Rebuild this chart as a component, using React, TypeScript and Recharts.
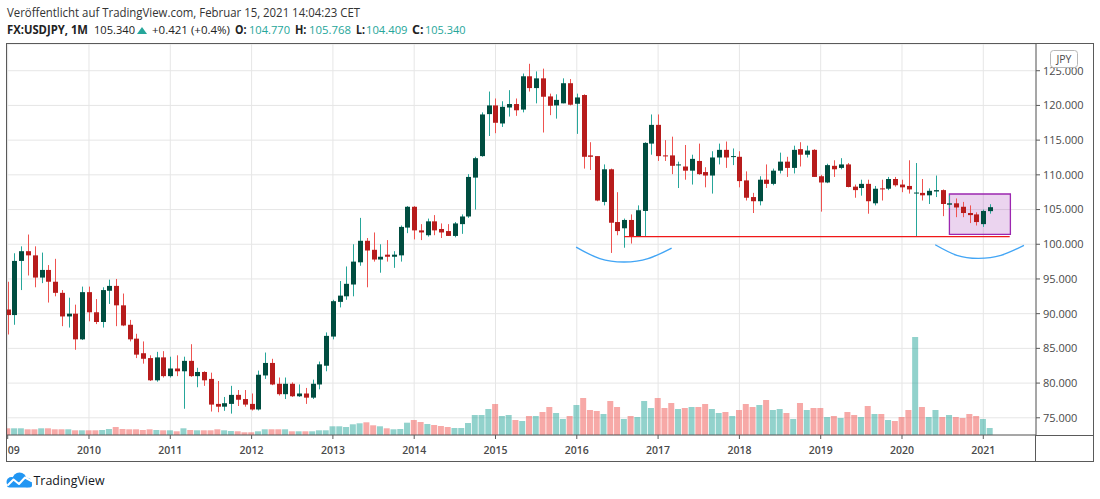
import React from "react";
import {
  ComposedChart,
  Bar,
  Line,
  XAxis,
  YAxis,
  CartesianGrid,
  ReferenceLine,
  ReferenceArea,
} from "recharts";

// ---- monthly USDJPY candles, Jan 2009 .. Feb 2021 ----
const OPEN = [
  90.6, 89.8, 97.6, 99.0, 98.4, 95.2, 96.3, 94.6, 93.0, 89.6, 90.0, 86.3,
  93.1, 90.2, 88.8, 93.3, 94.0, 91.2, 88.4, 86.4, 84.3, 83.6, 80.4, 83.7,
  81.0, 82.1, 81.7, 83.2, 81.0, 81.6, 80.6, 77.0, 76.6, 77.0, 78.3, 77.7,
  77.0, 76.2, 81.1, 82.9, 79.9, 78.4, 79.9, 78.1, 78.5, 77.9, 79.8, 82.5,
  86.7, 91.7, 92.5, 94.2, 97.4, 100.5, 99.2, 97.8, 98.5, 98.2, 98.4, 102.4,
  105.4, 102.0, 101.3, 103.3, 102.2, 101.9, 101.2, 102.9, 104.0, 109.6, 112.7, 118.75,
  120.0, 117.4, 119.7, 120.2, 119.4, 124.2, 122.5, 123.9, 121.3, 120.0, 120.3, 123.2,
  120.24, 121.5, 112.8, 112.7, 106.1, 110.8, 103.2, 102.3, 103.5, 101.15, 104.8, 114.5,
  117.2, 112.8, 112.8, 111.4, 111.2, 110.6, 112.0, 110.4, 109.9, 112.5, 113.6, 112.6,
  112.6, 109.2, 106.8, 106.2, 109.3, 108.7, 110.6, 111.9, 111.0, 113.7, 112.9, 113.6,
  109.8, 108.9, 111.3, 111.0, 111.5, 108.3, 108.1, 108.7, 105.9, 108.05, 108.0, 109.4,
  108.6, 108.4, 107.35, 107.4, 107.05, 107.6, 107.8, 105.7, 105.9, 105.4, 104.5, 104.3,
  102.9, 104.77,
];
const HIGH = [
  94.6, 98.7, 99.7, 101.4, 99.7, 98.8, 97.0, 97.9, 93.4, 92.3, 91.3, 93.9,
  93.9, 92.1, 93.8, 94.9, 95.0, 92.9, 89.1, 87.1, 86.0, 84.0, 84.5, 84.6,
  83.8, 84.0, 83.8, 85.6, 82.2, 81.7, 81.5, 80.3, 78.0, 79.6, 79.0, 79.0,
  78.5, 81.8, 84.4, 83.5, 80.8, 80.8, 80.1, 79.8, 79.3, 80.5, 83.1, 87.3,
  92.0, 94.7, 96.8, 100.0, 103.8, 100.9, 101.7, 100.0, 100.6, 99.0, 102.7, 105.5,
  105.5, 102.9, 103.7, 104.2, 103.0, 102.9, 103.2, 104.3, 110.1, 112.6, 119.0, 122.0,
  121.0, 120.6, 122.2, 121.0, 124.6, 126.0, 124.9, 125.3, 121.7, 121.6, 123.9, 123.8,
  121.7, 121.6, 114.7, 112.7, 111.5, 110.9, 107.5, 103.7, 104.3, 105.6, 114.7, 118.7,
  118.7, 115.0, 115.5, 111.9, 114.3, 112.9, 114.5, 111.1, 113.4, 114.5, 114.8, 113.8,
  113.4, 110.5, 107.4, 109.8, 111.5, 110.9, 113.2, 112.6, 114.2, 114.7, 114.2, 113.7,
  110.0, 111.6, 112.1, 112.4, 111.7, 108.6, 109.3, 109.3, 108.4, 109.3, 109.7, 109.7,
  109.3, 112.1, 111.7, 109.4, 108.05, 109.9, 107.9, 107.05, 106.6, 106.1, 105.6, 104.6,
  105.0, 105.768,
];
const LOW = [
  87.0, 88.4, 93.4, 95.5, 93.8, 94.4, 91.6, 92.5, 88.2, 88.0, 84.8, 86.2,
  88.9, 88.5, 88.0, 91.4, 88.2, 88.2, 86.0, 83.6, 82.8, 80.3, 80.2, 80.8,
  80.8, 81.0, 76.3, 80.9, 79.4, 79.6, 75.9, 75.8, 76.0, 75.6, 76.7, 76.6,
  76.05, 76.05, 80.6, 79.7, 78.2, 77.7, 78.0, 78.0, 77.0, 77.7, 79.1, 81.7,
  86.3, 90.9, 92.0, 92.5, 96.9, 93.8, 97.5, 95.9, 97.5, 96.6, 97.5, 101.6,
  100.7, 100.6, 101.1, 101.3, 100.9, 101.2, 101.0, 101.5, 103.8, 105.0, 112.6, 115.6,
  116.0, 116.9, 118.4, 118.5, 119.0, 122.0, 120.3, 116.1, 118.6, 118.1, 120.3, 120.0,
  115.9, 110.9, 110.7, 106.2, 105.6, 98.75, 101.3, 99.5, 100.1, 101.1, 101.1, 112.9,
  112.0, 112.0, 110.1, 108.1, 109.3, 108.6, 110.0, 108.2, 107.3, 111.5, 111.0, 111.4,
  108.2, 106.3, 104.5, 105.6, 108.1, 108.5, 110.2, 109.7, 110.2, 111.2, 112.5, 109.7,
  104.7, 108.8, 109.7, 110.8, 108.2, 106.7, 107.0, 104.4, 105.6, 106.3, 107.8, 108.3,
  107.5, 107.3, 101.1, 106.3, 105.8, 106.8, 104.05, 105.2, 103.9, 103.9, 103.05, 102.7,
  102.5, 104.409,
];
const CLOSE = [
  89.8, 97.6, 99.0, 98.4, 95.2, 96.3, 94.6, 93.0, 89.6, 90.0, 86.3, 93.1,
  90.2, 88.8, 93.4, 94.0, 91.2, 88.3, 86.3, 84.1, 83.5, 80.4, 83.7, 81.0,
  82.1, 81.7, 83.2, 81.0, 81.6, 80.4, 76.9, 76.6, 77.1, 78.3, 77.6, 76.9,
  76.2, 81.2, 82.9, 79.8, 78.4, 79.9, 78.1, 78.5, 77.9, 79.9, 82.7, 86.8,
  91.8, 92.6, 94.3, 97.5, 100.5, 99.1, 97.8, 98.2, 98.2, 98.5, 102.5, 105.4,
  102.0, 101.7, 103.3, 102.0, 101.7, 101.2, 103.0, 104.0, 109.7, 112.4, 118.7, 120.0,
  117.5, 119.8, 120.2, 119.3, 124.2, 122.5, 123.9, 121.25, 119.95, 120.8, 123.2, 120.1,
  121.15, 112.6, 112.6, 106.3, 110.8, 103.1, 101.9, 103.5, 101.15, 104.9, 114.6, 117.2,
  112.7, 112.75, 111.3, 111.5, 110.6, 112.3, 110.1, 109.9, 112.5, 113.6, 112.5, 112.7,
  109.1, 106.7, 106.2, 109.3, 108.7, 110.6, 111.9, 111.0, 113.6, 112.9, 113.5, 109.7,
  108.9, 111.4, 110.8, 111.5, 108.25, 107.8, 108.7, 106.2, 108.0, 108.0, 109.4, 108.5,
  108.2, 107.9, 107.45, 107.05, 107.7, 107.8, 105.8, 105.9, 105.3, 104.5, 104.2, 103.2,
  104.8, 105.34,
];
// relative tick volume per month
const VOLUME = [
  67, 67, 67, 57, 57, 67, 67, 57, 57, 57, 47, 47,
  47, 47, 50, 60, 80, 60, 57, 57, 50, 57, 50, 47,
  47, 37, 67, 50, 47, 47, 47, 57, 47, 40, 37, 27,
  27, 37, 57, 57, 57, 57, 37, 37, 37, 37, 47, 47,
  87, 87, 80, 107, 117, 127, 97, 87, 67, 57, 60, 123,
  150, 130, 110, 100, 90, 80, 70, 70, 120, 200, 200, 260,
  310, 190, 200, 150, 140, 190, 190, 230, 280, 220, 160, 190,
  300, 370, 250, 240, 210, 340, 280, 160, 190, 180, 340, 270,
  370, 270, 320, 260, 270, 280, 280, 310, 260, 220, 230, 190,
  250, 310, 280, 300, 350, 250, 260, 220, 160, 320, 250, 270,
  270, 180, 190, 170, 230, 200, 180, 290, 210, 210, 150, 140,
  180, 250, 980, 280, 180, 250, 180, 200, 180, 170, 210, 190,
  160, 70,
];

const FIRST_YEAR = 2009;
const YEAR_TICKS = [0, 12, 24, 36, 48, 60, 72, 84, 96, 108, 120, 132, 144];
const YEAR_LABELS = ["09", "2010", "2011", "2012", "2013", "2014", "2015", "2016", "2017", "2018", "2019", "2020", "2021"];
const PRICE_TICKS = [75, 80, 85, 90, 95, 100, 105, 110, 115, 120, 125];

// drawings
const SUPPORT_PRICE = 101.1;
const SUPPORT_FROM = 91;
const SUPPORT_TO = 147.9;
const BOX_X = [139, 148];
const BOX_Y = [101.43, 107.24];
const ARC_LEFT = [
  { i: 83.9, p: 99.6 },
  { i: 87.4, p: 97.93 },
  { i: 91.0, p: 97.44 },
  { i: 94.5, p: 97.93 },
  { i: 98.0, p: 99.46 },
];
const ARC_RIGHT = [
  { i: 136.9, p: 99.93 },
  { i: 140.1, p: 98.4 },
  { i: 143.3, p: 97.96 },
  { i: 146.6, p: 98.4 },
  { i: 150.0, p: 99.83 },
];

const rows = OPEN.map((o, i) => ({
  i,
  month: `${FIRST_YEAR + Math.floor(i / 12)}-${String((i % 12) + 1).padStart(2, "0")}`,
  o,
  h: HIGH[i],
  l: LOW[i],
  c: CLOSE[i],
  v: VOLUME[i],
}));

const BODY_UP = "#004d40";
const BODY_DN = "#b71c1c";
const WICK_UP = "#26a69a";
const WICK_DN = "#ef5350";
const TEAL = "#26a69a";
const FONT = '"Open Sans", "Noto Sans", sans-serif';
const BODY_W = 5;

function Candle(props: any) {
  const { x, y, width, height, payload } = props;
  if (x == null || y == null || !payload) return null;
  const { o, h, l, c } = payload;
  const up = c >= o;
  const hh = Number(height) || 0;
  const k = h > l ? hh / (h - l) : 0;
  const yO = y + (h - o) * k;
  const yC = y + (h - c) * k;
  const top = Math.min(yO, yC);
  const bh = Math.max(Math.abs(yC - yO), 1);
  const cx = Math.round(x + (Number(width) || 0) / 2) + 0.5;
  return (
    <g>
      <line x1={cx} x2={cx} y1={y} y2={y + hh} stroke={up ? WICK_UP : WICK_DN} strokeWidth={1} />
      <rect x={cx - BODY_W / 2} y={top} width={BODY_W} height={bh} fill={up ? BODY_UP : BODY_DN} />
    </g>
  );
}

function VolBar(props: any) {
  const { x, y, width, height, payload } = props;
  if (x == null || !payload) return null;
  const up = payload.c >= payload.o;
  return (
    <rect
      x={x}
      y={y}
      width={width}
      height={Math.max(height, 0)}
      fill={up ? "#26a69a" : "#ef5350"}
      fillOpacity={0.5}
    />
  );
}

function YearTick(props: any) {
  const { x, y, payload } = props;
  const idx = YEAR_TICKS.indexOf(payload.value);
  const first = idx === 0;
  return (
    <text
      x={x}
      y={y}
      dy="0.71em"
      textAnchor={first ? "start" : "middle"}
      fill="#4a4a4a"
      fontSize={10.5}
      fontWeight={600}
      fontFamily={FONT}
    >
      {YEAR_LABELS[idx]}
    </text>
  );
}

function Header() {
  const seg = (t: string, x: number, w: number, opts: any = {}) => (
    <text
      x={x}
      y={34}
      fontSize={11.5}
      fontFamily={FONT}
      textLength={w}
      lengthAdjust="spacingAndGlyphs"
      fill={opts.fill || "#222"}
      fontWeight={opts.bold ? 700 : 400}
    >
      {t}
    </text>
  );
  return (
    <g>
      <text
        x={7}
        y={17}
        fontSize={12}
        fontFamily={FONT}
        fill="#333"
        textLength={353}
        lengthAdjust="spacingAndGlyphs"
      >
        Veröffentlicht auf TradingView.com, Februar 15, 2021 14:04:23 CET
      </text>
      {seg("FX:USDJPY, 1M", 7, 81, { bold: true })}
      {seg("105.340", 94, 41)}
      <polygon points="137,34 147,34 142,27" fill={TEAL} />
      {seg("+0.421 (+0.4%)", 152, 78)}
      {seg("O:", 235, 11.5, { bold: true })}
      {seg("104.770", 249, 41, { fill: TEAL })}
      {seg("H:", 295, 11.5, { bold: true })}
      {seg("105.768", 309, 42, { fill: TEAL })}
      {seg("L:", 356, 9, { bold: true })}
      {seg("104.409", 366, 41.5, { fill: TEAL })}
      {seg("C:", 412, 11.5, { bold: true })}
      {seg("105.340", 425, 40.5, { fill: TEAL })}
    </g>
  );
}

function Frame() {
  return (
    <g>
      <rect x={6.5} y={43.5} width={1087} height={418} fill="none" stroke="#5a5a5a" strokeWidth={1} />
      <line x1={1036} x2={1094} y1={435.5} y2={435.5} stroke="#5a5a5a" strokeWidth={1} />
      <line x1={1035.5} x2={1035.5} y1={435} y2={462} stroke="#5a5a5a" strokeWidth={1} />
      <rect x={1050.5} y={50.5} width={27} height={17} rx={3} fill="#fff" stroke="#b8b8b8" />
      <text x={1064} y={62.5} textAnchor="middle" fontSize={10.5} fontFamily={FONT} fill="#4a4a4a">
        JPY
      </text>
      <g>
        <circle cx={19.5} cy={479.5} r={7} fill="#2196f3" />
        <circle cx={11.5} cy={482} r={5} fill="#2196f3" />
        <circle cx={27} cy={482.5} r={4.8} fill="#2196f3" />
        <rect x={7} y={482} width={25} height={5.5} rx={2.5} fill="#2196f3" />
        <polyline
          points="8,485 13.5,479.5 19,484 25,477.5 31.5,481"
          fill="none"
          stroke="#fff"
          strokeWidth={2}
          strokeLinejoin="round"
          strokeLinecap="round"
        />
      </g>
      <text
        x={33.5}
        y={485}
        fontSize={13.5}
        fontFamily={FONT}
        fill="#131722"
        textLength={71}
        lengthAdjust="spacingAndGlyphs"
      >
        TradingView
      </text>
    </g>
  );
}

export default function App() {
  return (
    <div style={{ position: "absolute", left: 0, top: 0, width: 1100, height: 499, background: "#fff" }}>
      <div style={{ position: "absolute", left: 0, top: 0 }}>
        <ComposedChart
          width={1100}
          height={499}
          data={rows}
          margin={{ top: 44, right: 6, bottom: 37, left: 7 }}
          style={{ fontFamily: FONT }}
        >
          <CartesianGrid stroke="#e6e6e6" strokeWidth={1} />
          <XAxis
            dataKey="i"
            type="number"
            domain={[-0.103, 151.78]}
            allowDataOverflow
            ticks={YEAR_TICKS}
            interval={0}
            tick={<YearTick />}
            tickSize={4}
            tickMargin={8}
            tickLine={{ stroke: "#5a5a5a" }}
            axisLine={{ stroke: "#5a5a5a" }}
            height={27}
          />
          <XAxis
            xAxisId="vx"
            dataKey="i"
            type="number"
            domain={[-0.103, 151.78]}
            allowDataOverflow
            hide
          />
          <YAxis
            orientation="right"
            type="number"
            domain={[72.52, 128.85]}
            allowDataOverflow
            ticks={PRICE_TICKS}
            interval={0}
            tickFormatter={(v: number) => v.toFixed(3)}
            tick={{ fill: "#4a4a4a", fontSize: 11, fontFamily: FONT }}
            tickSize={4}
            tickMargin={3}
            tickLine={{ stroke: "#5a5a5a" }}
            axisLine={{ stroke: "#5a5a5a" }}
            width={58}
          />
          <YAxis yAxisId="vol" type="number" domain={[0, 3910]} allowDataOverflow hide />
          <Bar
            xAxisId="vx"
            yAxisId="vol"
            dataKey="v"
            barSize={6}
            shape={<VolBar />}
            isAnimationActive={false}
          />
          <ReferenceArea
            x1={BOX_X[0]}
            x2={BOX_X[1]}
            y1={BOX_Y[0]}
            y2={BOX_Y[1]}
            fill="#9c27b0"
            fillOpacity={0.2}
            stroke="#9c27b0"
            strokeWidth={1.3}
            strokeOpacity={1}
          />
          <Bar
            dataKey={(d: any) => [d.l, d.h]}
            barSize={5}
            shape={<Candle />}
            isAnimationActive={false}
          />
          <ReferenceLine
            segment={[
              { x: SUPPORT_FROM, y: SUPPORT_PRICE },
              { x: SUPPORT_TO, y: SUPPORT_PRICE },
            ]}
            stroke="#f01818"
            strokeWidth={1.3}
          />
          <Line
            data={ARC_LEFT}
            dataKey="p"
            type="natural"
            stroke="#42a5f5"
            strokeWidth={1.4}
            dot={false}
            isAnimationActive={false}
          />
          <Line
            data={ARC_RIGHT}
            dataKey="p"
            type="natural"
            stroke="#42a5f5"
            strokeWidth={1.4}
            dot={false}
            isAnimationActive={false}
          />
        </ComposedChart>
      </div>
      <svg
        width={1100}
        height={499}
        style={{ position: "absolute", left: 0, top: 0, pointerEvents: "none" }}
      >
        <Header />
        <Frame />
      </svg>
    </div>
  );
}
